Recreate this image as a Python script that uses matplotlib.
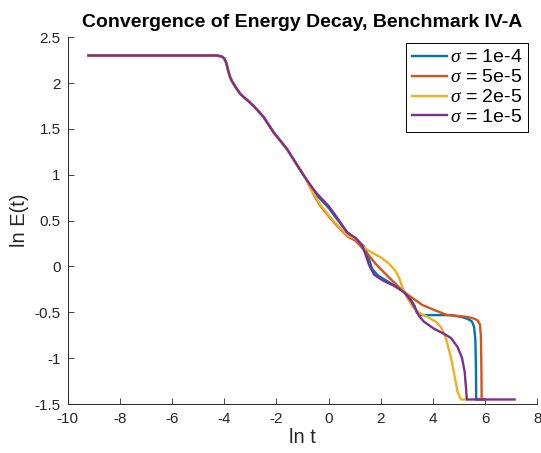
import matplotlib
matplotlib.use("Agg")
import matplotlib.pyplot as plt

plt.rcParams['font.family'] = ['Liberation Sans', 'DejaVu Sans']
plt.rcParams['mathtext.fontset'] = 'custom'
plt.rcParams['mathtext.it'] = 'Liberation Serif:italic'

# shared early part (all four curves overlap)
x_common = [-9.2, -4.3, -4.1, -4.0, -3.92, -3.85, -3.78, -3.70, -3.55, -3.38, -3.10, -2.87, -2.49, -2.10, -1.59, -1.08, -0.85]
y_common = [2.30, 2.30, 2.29, 2.27, 2.22, 2.14, 2.07, 2.02, 1.95, 1.88, 1.81, 1.75, 1.63, 1.46, 1.28, 1.05, 0.95]

x_1e4 = [-0.60, -0.43, 0.00, 0.21, 0.72, 1.10, 1.35, 1.45, 1.55, 1.68, 1.90, 2.19, 2.60, 2.90, 3.15, 3.28, 3.38, 3.50, 3.73, 4.69, 5.10, 5.33, 5.50, 5.58, 5.63, 5.65, 5.66, 5.90]
y_1e4 = [0.84, 0.77, 0.64, 0.56, 0.37, 0.29, 0.22, 0.17, 0.08, -0.03, -0.10, -0.15, -0.22, -0.28, -0.36, -0.42, -0.50, -0.53, -0.53, -0.53, -0.55, -0.57, -0.60, -0.66, -0.80, -1.10, -1.45, -1.45]

x_5e5 = [-0.65, -0.50, -0.31, 0.00, 0.21, 0.72, 1.04, 1.30, 1.55, 1.80, 2.32, 2.90, 3.60, 4.10, 4.56, 5.00, 5.33, 5.60, 5.72, 5.80, 5.84, 5.86, 5.87, 6.00]
y_5e5 = [0.83, 0.75, 0.66, 0.55, 0.48, 0.33, 0.28, 0.20, 0.12, 0.03, -0.12, -0.28, -0.42, -0.48, -0.53, -0.54, -0.55, -0.57, -0.59, -0.63, -0.75, -1.10, -1.45, -1.45]

x_2e5 = [-0.65, -0.50, -0.31, 0.00, 0.21, 0.72, 1.04, 1.30, 1.55, 2.00, 2.32, 2.55, 2.70, 2.90, 3.22, 3.50, 3.80, 4.10, 4.31, 4.50, 4.69, 4.85, 4.95, 5.08, 5.30]
y_2e5 = [0.83, 0.76, 0.67, 0.56, 0.49, 0.34, 0.30, 0.22, 0.17, 0.10, 0.03, -0.04, -0.12, -0.28, -0.44, -0.51, -0.55, -0.60, -0.66, -0.78, -0.99, -1.22, -1.37, -1.45, -1.45]

x_1e5 = [-0.60, -0.43, 0.00, 0.21, 0.72, 1.04, 1.30, 1.42, 1.55, 1.75, 2.07, 2.51, 2.90, 3.15, 3.28, 3.47, 3.65, 3.80, 4.05, 4.40, 4.70, 4.95, 5.12, 5.22, 5.27, 5.30, 7.13]
y_1e5 = [0.85, 0.79, 0.66, 0.58, 0.37, 0.31, 0.22, 0.13, 0.02, -0.09, -0.15, -0.21, -0.28, -0.37, -0.43, -0.54, -0.60, -0.63, -0.68, -0.73, -0.78, -0.88, -1.00, -1.15, -1.32, -1.45, -1.45]

labels = [r'$\sigma$ = 1e-4', r'$\sigma$ = 5e-5', r'$\sigma$ = 2e-5', r'$\sigma$ = 1e-5']
colors = ['#0072BD', '#D95319', '#EDB120', '#7E2F8E']
series = [(x_1e4, y_1e4), (x_5e5, y_5e5), (x_2e5, y_2e5), (x_1e5, y_1e5)]

fig = plt.figure(figsize=(5.41, 4.53), dpi=100)
ax = fig.add_axes([0.125, 0.108, 0.868, 0.810])

for (xs, ys), lab, c in zip(series, labels, colors):
    ax.plot(x_common + xs, y_common + ys, color=c, lw=1.7, label=lab,
            solid_joinstyle='round')

ax.set_xlim(-10, 8)
ax.set_ylim(-1.5, 2.5)
ax.set_xticks(range(-10, 9, 2))
ax.set_yticks([-1.5, -1, -0.5, 0, 0.5, 1, 1.5, 2, 2.5])
ax.set_yticklabels(['-1.5', '-1', '-0.5', '0', '0.5', '1', '1.5', '2', '2.5'])
ax.set_xticklabels([str(v) for v in range(-10, 9, 2)])
ax.tick_params(direction='in', labelsize=11, length=4, width=0.6, colors='#262626')
ax.tick_params(axis='x', pad=6)
ax.tick_params(axis='y', pad=5)
for s in ['top', 'right']:
    ax.spines[s].set_visible(False)
for s in ['left', 'bottom']:
    ax.spines[s].set_linewidth(0.7)
    ax.spines[s].set_color('#262626')

ax.set_xlabel('ln t', fontsize=14.5, color='#262626', labelpad=1)
ax.set_ylabel('ln E(t)', fontsize=14.5, color='#262626', labelpad=4)
ax.set_title('Convergence of Energy Decay, Benchmark IV-A', fontsize=14, fontweight='bold', pad=7)

leg = ax.legend(loc='upper right', bbox_to_anchor=(528/541, 1 - 43/453), bbox_transform=fig.transFigure,
                fontsize=14, frameon=True, fancybox=False, edgecolor='black', framealpha=1,
                handlelength=1.8, handletextpad=0.15, borderpad=0.3, labelspacing=0.12, borderaxespad=0)
leg.get_frame().set_linewidth(0.7)

fig.savefig('out.png', dpi=100)
